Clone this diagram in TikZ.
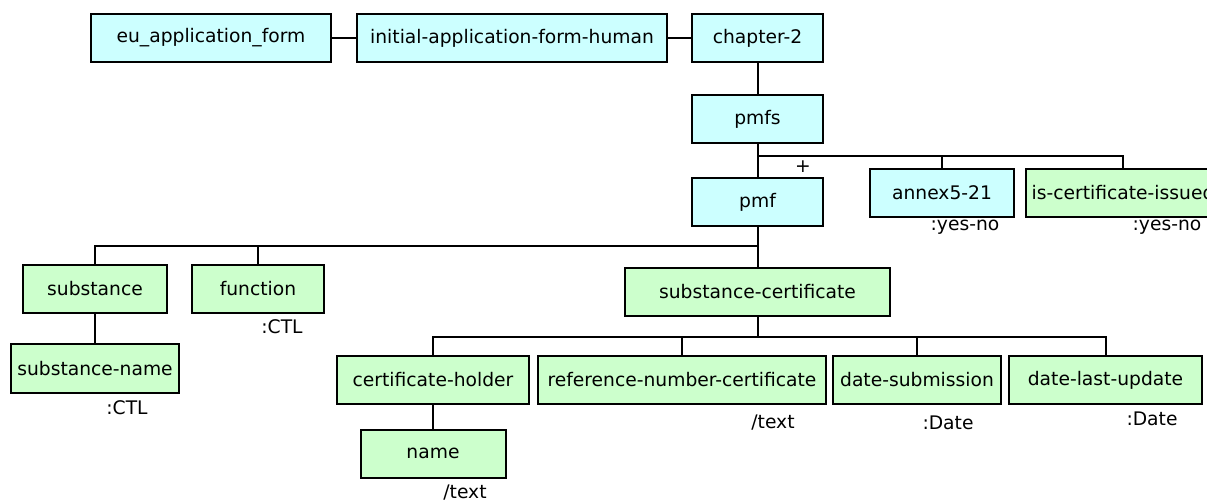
\documentclass[tikz,border=0pt]{standalone}
\usepackage{fontspec}
\setmainfont{DejaVu Sans}
\usepackage{xcolor}
\definecolor{paleblue}{RGB}{204,255,255}
\definecolor{palegreen}{RGB}{204,255,204}
\usepackage{tikz}
\usetikzlibrary{positioning,calc}
\tikzset{
  elem/.style={draw=black, line width=2pt, inner sep=0pt,
               minimum height=48, font=\fontsize{18.7}{22}\selectfont},
  groupbox/.style={elem, fill=paleblue},
  leafbox/.style={elem, fill=palegreen},
  typelabel/.style={inner sep=0pt, font=\fontsize{18.7}{22}\selectfont},
  link/.style={draw=black, line width=2pt},
}

\begin{document}
\begin{tikzpicture}[x=1pt,y=-1pt]
\useasboundingbox (0,0) rectangle (1207,502);
% top chain
\node[groupbox, minimum width=240] (eu) at (211,38) {eu\_application\_form};
\node[groupbox, minimum width=310] (initial) at (512,38) {initial-application-form-human};
\node[groupbox, minimum width=131] (chapter2) at (757.5,38) {chapter-2};
\node[groupbox, minimum width=131] (pmfs) at (757.5,119) {pmfs};
% children of pmfs
\node[groupbox, minimum width=131] (pmf) at (757.5,202.5) {pmf};
\node[groupbox, minimum width=144] (annex) at (942,193) {annex5-21};
\node[leafbox, minimum width=194] (iscert) at (1123,193) {\makebox[0pt]{is-certificate-issued}};
\node[typelabel] (annex-type) at (965,227) {:yes-no};
\node[typelabel] (iscert-type) at (1167,227) {:yes-no};
\node[typelabel] (plus) at (803,167) {+};
% children of pmf
\node[leafbox, minimum width=144] (substance) at (95,289) {substance};
\node[leafbox, minimum width=132] (function) at (258,289) {function};
\node[leafbox, minimum width=265] (subcert) at (757.5,292) {substance-certificate};
\node[leafbox, minimum width=168] (subname) at (95,368.5) {substance-name};
\node[typelabel] (function-type) at (282,327) {:CTL};
\node[typelabel] (subname-type) at (127,408) {:CTL};
% children of substance-certificate
\node[leafbox, minimum width=192] (holder) at (433,380) {certificate-holder};
\node[leafbox, minimum width=288] (refnum) at (682,380) {reference-number-certificate};
\node[leafbox, minimum width=168] (datesub) at (917,380) {date-submission};
\node[leafbox, minimum width=193] (datelast) at (1105.5,380) {date-last-update};
\node[leafbox, minimum width=145] (name) at (433,453.5) {name};
\node[typelabel] (refnum-type) at (773,423) {/text};
\node[typelabel] (datesub-type) at (948,423) {:Date};
\node[typelabel] (datelast-type) at (1152,419) {:Date};
\node[typelabel] (name-type) at (465,493) {/text};

\coordinate (pmfsbar) at (0,156);
\coordinate (pmfbar) at (0,246);
\coordinate (subcertbar) at (0,337);

\draw[link] (eu) -- (initial);
\draw[link] (initial) -- (chapter2);
\draw[link] (chapter2) -- (pmfs);
\draw[link] (pmfs.south) -- (pmfs.south |- pmfsbar) -| (iscert.north);
\draw[link] (pmfs.south |- pmfsbar) -- (pmf.north);
\draw[link] (annex.north) -- (annex.north |- pmfsbar);
\draw[link] (pmf.south) -- (pmf.south |- pmfbar) -| (substance.north);
\draw[link] (pmf.south |- pmfbar) -- (subcert.north);
\draw[link] (function.north) -- (function.north |- pmfbar);
\draw[link] (substance) -- (subname);
\draw[link] (subcert.south) -- (subcert.south |- subcertbar) -| (holder.north);
\draw[link] (subcert.south |- subcertbar) -| (datelast.north);
\draw[link] (refnum.north) -- (refnum.north |- subcertbar);
\draw[link] (datesub.north) -- (datesub.north |- subcertbar);
\draw[link] (holder) -- (name);
\end{tikzpicture}
\end{document}
